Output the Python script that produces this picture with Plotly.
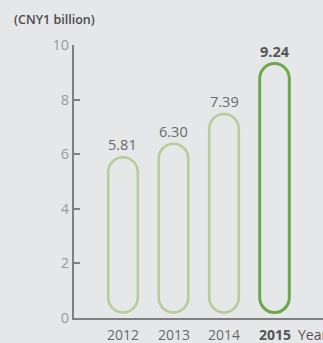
import plotly.graph_objects as go

# Data
years = ["2012", "2013", "2014", "2015"]
values = [5.81, 6.30, 7.39, 9.24]
value_labels = ["5.81", "6.30", "7.39", "9.24"]
highlight = [False, False, False, True]
y_ticks = [0, 2, 4, 6, 8, 10]

BG = "#e6e7e9"
LIGHT_GREEN = "#b4cd99"
DARK_GREEN = "#6aa84a"
AXIS = "#808080"

fig = go.Figure()

# Pill-shaped outlined bars built from cubic Bezier arcs in data coordinates
half_w = 0.293     # half bar width (x units)
ry = 0.55          # vertical radius of the rounded ends (y units)
base = 0.2         # bars sit slightly above the baseline
k = 0.5523


def pill_path(xc, y0, y1):
    xl, xr = xc - half_w, xc + half_w
    top_c = y1 - ry
    bot_c = y0 + ry
    p = f"M {xl},{bot_c} L {xl},{top_c} "
    p += f"C {xl},{top_c + k*ry} {xc - k*half_w},{y1} {xc},{y1} "
    p += f"C {xc + k*half_w},{y1} {xr},{top_c + k*ry} {xr},{top_c} "
    p += f"L {xr},{bot_c} "
    p += f"C {xr},{bot_c - k*ry} {xc + k*half_w},{y0} {xc},{y0} "
    p += f"C {xc - k*half_w},{y0} {xl},{bot_c - k*ry} {xl},{bot_c} Z"
    return p


for i, (v, hl) in enumerate(zip(values, highlight)):
    fig.add_shape(
        type="path",
        path=pill_path(i, base, v + 0.08),
        xref="x", yref="y",
        line=dict(color=DARK_GREEN if hl else LIGHT_GREEN, width=3 if hl else 2.5),
        fillcolor="rgba(0,0,0,0)",
    )
    fig.add_annotation(
        x=i, y=v + 0.08, xref="x", yref="y",
        text=f"<b>{value_labels[i]}</b>" if hl else value_labels[i],
        showarrow=False, yanchor="bottom", yshift=1,
        font=dict(family="Open Sans", size=14.5, color="#555555" if hl else "#6a6a6a"),
    )

# invisible trace to anchor the axes
fig.add_trace(go.Scatter(x=list(range(len(years))), y=values, mode="markers",
                         marker=dict(opacity=0), hoverinfo="skip", showlegend=False))

fig.add_annotation(
    x=-0.25, y=1.0, xref="paper", yref="paper", xanchor="left", yanchor="bottom",
    text="(CNY1 billion)", showarrow=False, yshift=15,
    font=dict(family="Open Sans", size=12.5, color="#4a4a4a", weight=600),
)

# Year labels below the axis
for i, yr in enumerate(years):
    fig.add_annotation(
        x=i, y=0, xref="x", yref="y", yanchor="top", yshift=-5,
        text=f"<b>{yr}</b>" if highlight[i] else yr, showarrow=False,
        font=dict(family="Open Sans", size=14, color="#555555" if highlight[i] else "#6a6a6a"),
    )
fig.add_annotation(
    x=3.42, y=0, xref="x", yref="y", xanchor="left", yanchor="top", yshift=-5,
    text="Year", showarrow=False,
    font=dict(family="Open Sans", size=14, color="#555555"),
)

fig.update_layout(
    width=323, height=343,
    margin=dict(l=74, r=0, t=45, b=25),
    paper_bgcolor=BG, plot_bgcolor=BG,
    xaxis=dict(range=[-0.97, 3.96], showgrid=False, zeroline=False,
               showticklabels=False, showline=True, linecolor=AXIS, linewidth=2,
               ticks=""),
    yaxis=dict(range=[0, 10], tickvals=y_ticks, showgrid=False, zeroline=False,
               showline=True, linecolor=AXIS, linewidth=2,
               ticks="inside", ticklen=6, tickwidth=2, tickcolor=AXIS,
               tickfont=dict(family="Open Sans", size=14.5, color="#9a9a9a")),
    showlegend=False,
)

fig.write_html("out.html")
